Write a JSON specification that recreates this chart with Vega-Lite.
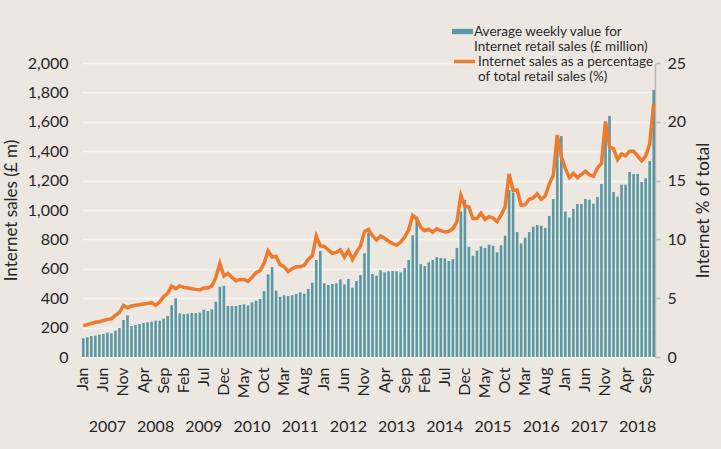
{
  "$schema": "https://vega.github.io/schema/vega-lite/v6.json",
  "width": 573,
  "height": 294,
  "autosize": {"type": "none"},
  "padding": {"left": 82, "top": 63, "right": 66, "bottom": 92},
  "background": "#ece7e1",
  "config": {
    "view": {"stroke": null},
    "font": "Lato",
    "axis": {"labelFont": "Lato", "titleFont": "Lato", "labelColor": "#262626", "titleColor": "#262626", "titleFontWeight": "normal"},
    "legend": {"labelFont": "Lato"}
  },
  "data": {"values": [
    {"m":"2007-01","sales":127,"pct":2.66},{"m":"2007-02","sales":134,"pct":2.75},{"m":"2007-03","sales":143,"pct":2.85},{"m":"2007-04","sales":145,"pct":2.95},{"m":"2007-05","sales":152,"pct":3.0},{"m":"2007-06","sales":156,"pct":3.1},{"m":"2007-07","sales":166,"pct":3.2},{"m":"2007-08","sales":161,"pct":3.25},{"m":"2007-09","sales":179,"pct":3.55},{"m":"2007-10","sales":197,"pct":3.8},{"m":"2007-11","sales":252,"pct":4.39},{"m":"2007-12","sales":283,"pct":4.19},
    {"m":"2008-01","sales":211,"pct":4.34},{"m":"2008-02","sales":218,"pct":4.4},{"m":"2008-03","sales":224,"pct":4.45},{"m":"2008-04","sales":231,"pct":4.5},{"m":"2008-05","sales":236,"pct":4.56},{"m":"2008-06","sales":240,"pct":4.62},{"m":"2008-07","sales":247,"pct":4.39},{"m":"2008-08","sales":247,"pct":4.68},{"m":"2008-09","sales":261,"pct":5.13},{"m":"2008-10","sales":279,"pct":5.41},{"m":"2008-11","sales":352,"pct":6.04},{"m":"2008-12","sales":399,"pct":5.81},
    {"m":"2009-01","sales":297,"pct":6.04},{"m":"2009-02","sales":292,"pct":5.92},{"m":"2009-03","sales":295,"pct":5.87},{"m":"2009-04","sales":299,"pct":5.81},{"m":"2009-05","sales":299,"pct":5.75},{"m":"2009-06","sales":302,"pct":5.7},{"m":"2009-07","sales":322,"pct":5.87},{"m":"2009-08","sales":313,"pct":5.87},{"m":"2009-09","sales":324,"pct":6.04},{"m":"2009-10","sales":376,"pct":6.77},{"m":"2009-11","sales":478,"pct":7.97},{"m":"2009-12","sales":485,"pct":6.89},
    {"m":"2010-01","sales":347,"pct":7.11},{"m":"2010-02","sales":347,"pct":6.77},{"m":"2010-03","sales":347,"pct":6.49},{"m":"2010-04","sales":354,"pct":6.6},{"m":"2010-05","sales":358,"pct":6.6},{"m":"2010-06","sales":351,"pct":6.43},{"m":"2010-07","sales":372,"pct":6.77},{"m":"2010-08","sales":383,"pct":7.17},{"m":"2010-09","sales":395,"pct":7.34},{"m":"2010-10","sales":449,"pct":7.97},{"m":"2010-11","sales":562,"pct":9.01},{"m":"2010-12","sales":612,"pct":8.5},
    {"m":"2011-01","sales":451,"pct":8.55},{"m":"2011-02","sales":410,"pct":7.85},{"m":"2011-03","sales":420,"pct":7.68},{"m":"2011-04","sales":415,"pct":7.26},{"m":"2011-05","sales":420,"pct":7.51},{"m":"2011-06","sales":429,"pct":7.68},{"m":"2011-07","sales":440,"pct":7.68},{"m":"2011-08","sales":431,"pct":7.79},{"m":"2011-09","sales":463,"pct":8.31},{"m":"2011-10","sales":506,"pct":8.59},{"m":"2011-11","sales":660,"pct":10.29},{"m":"2011-12","sales":721,"pct":9.44},
    {"m":"2012-01","sales":501,"pct":9.4},{"m":"2012-02","sales":490,"pct":9.1},{"m":"2012-03","sales":497,"pct":8.82},{"m":"2012-04","sales":501,"pct":8.9},{"m":"2012-05","sales":528,"pct":9.1},{"m":"2012-06","sales":494,"pct":8.5},{"m":"2012-07","sales":531,"pct":9.04},{"m":"2012-08","sales":472,"pct":8.3},{"m":"2012-09","sales":517,"pct":8.9},{"m":"2012-10","sales":558,"pct":9.45},{"m":"2012-11","sales":705,"pct":10.65},{"m":"2012-12","sales":846,"pct":10.85},
    {"m":"2013-01","sales":565,"pct":10.3},{"m":"2013-02","sales":553,"pct":9.95},{"m":"2013-03","sales":590,"pct":10.3},{"m":"2013-04","sales":576,"pct":10.1},{"m":"2013-05","sales":583,"pct":9.85},{"m":"2013-06","sales":585,"pct":9.65},{"m":"2013-07","sales":583,"pct":9.5},{"m":"2013-08","sales":576,"pct":9.78},{"m":"2013-09","sales":605,"pct":10.2},{"m":"2013-10","sales":660,"pct":10.8},{"m":"2013-11","sales":828,"pct":12.05},{"m":"2013-12","sales":954,"pct":11.76},
    {"m":"2014-01","sales":631,"pct":11.03},{"m":"2014-02","sales":619,"pct":10.74},{"m":"2014-03","sales":644,"pct":10.86},{"m":"2014-04","sales":660,"pct":10.63},{"m":"2014-05","sales":680,"pct":10.91},{"m":"2014-06","sales":673,"pct":10.74},{"m":"2014-07","sales":671,"pct":10.63},{"m":"2014-08","sales":653,"pct":10.69},{"m":"2014-09","sales":665,"pct":10.91},{"m":"2014-10","sales":742,"pct":11.48},{"m":"2014-11","sales":989,"pct":13.75},{"m":"2014-12","sales":1068,"pct":12.84},
    {"m":"2015-01","sales":750,"pct":12.75},{"m":"2015-02","sales":689,"pct":11.76},{"m":"2015-03","sales":723,"pct":11.79},{"m":"2015-04","sales":753,"pct":12.22},{"m":"2015-05","sales":742,"pct":11.71},{"m":"2015-06","sales":764,"pct":11.93},{"m":"2015-07","sales":757,"pct":11.82},{"m":"2015-08","sales":712,"pct":11.51},{"m":"2015-09","sales":760,"pct":12.07},{"m":"2015-10","sales":825,"pct":12.78},{"m":"2015-11","sales":1136,"pct":15.56},{"m":"2015-12","sales":1118,"pct":14.15},
    {"m":"2016-01","sales":850,"pct":14.2},{"m":"2016-02","sales":773,"pct":12.9},{"m":"2016-03","sales":812,"pct":12.95},{"m":"2016-04","sales":850,"pct":13.41},{"m":"2016-05","sales":887,"pct":13.52},{"m":"2016-06","sales":898,"pct":13.86},{"m":"2016-07","sales":893,"pct":13.41},{"m":"2016-08","sales":878,"pct":13.69},{"m":"2016-09","sales":959,"pct":14.71},{"m":"2016-10","sales":1075,"pct":15.45},{"m":"2016-11","sales":1490,"pct":18.88},{"m":"2016-12","sales":1503,"pct":17.03},
    {"m":"2017-01","sales":989,"pct":16.04},{"m":"2017-02","sales":948,"pct":15.25},{"m":"2017-03","sales":1007,"pct":15.62},{"m":"2017-04","sales":1041,"pct":15.26},{"m":"2017-05","sales":1041,"pct":15.52},{"m":"2017-06","sales":1075,"pct":15.8},{"m":"2017-07","sales":1070,"pct":15.49},{"m":"2017-08","sales":1043,"pct":15.36},{"m":"2017-09","sales":1088,"pct":16.08},{"m":"2017-10","sales":1177,"pct":16.47},{"m":"2017-11","sales":1590,"pct":20.03},{"m":"2017-12","sales":1640,"pct":17.88},
    {"m":"2018-01","sales":1122,"pct":17.7},{"m":"2018-02","sales":1091,"pct":16.78},{"m":"2018-03","sales":1172,"pct":17.26},{"m":"2018-04","sales":1172,"pct":17.1},{"m":"2018-05","sales":1259,"pct":17.5},{"m":"2018-06","sales":1245,"pct":17.5},{"m":"2018-07","sales":1245,"pct":17.1},{"m":"2018-08","sales":1191,"pct":16.68},{"m":"2018-09","sales":1216,"pct":17.09},{"m":"2018-10","sales":1333,"pct":18.1},{"m":"2018-11","sales":1816,"pct":21.54}
  ]},
  "layer": [
    {
      "mark": {"type": "bar"},
      "encoding": {
        "x": {
          "field": "m", "type": "ordinal",
          "scale": {"paddingInner": 0.35, "paddingOuter": 0},
          "axis": {
            "orient": "bottom",
            "values": ["2007-01","2007-06","2007-11","2008-04","2008-09","2009-02","2009-07","2009-12","2010-05","2010-10","2011-03","2011-08","2012-01","2012-06","2012-11","2013-04","2013-09","2014-02","2014-07","2014-12","2015-05","2015-10","2016-03","2016-08","2017-01","2017-06","2017-11","2018-04","2018-09"],
            "labelExpr": "['Jan','Feb','Mar','Apr','May','Jun','Jul','Aug','Sep','Oct','Nov','Dec'][toNumber(slice(datum.value, 5, 7)) - 1]",
            "labelAngle": 270, "labelAlign": "right", "labelBaseline": "middle",
            "labelPadding": 10, "labelFontSize": 16, "labelOverlap": false,
            "ticks": false, "domain": false, "grid": false, "title": null
          }
        },
        "y": {
          "field": "sales", "type": "quantitative",
          "scale": {"domain": [0, 2000], "nice": false},
          "axis": {
            "orient": "left", "values": [0,200,400,600,800,1000,1200,1400,1600,1800,2000], "format": ",.0f",
            "labelFontSize": 16, "labelPadding": 14, "ticks": false, "domain": false,
            "grid": true, "gridColor": "#f8f5f1", "gridWidth": 1.5,
            "title": "Internet sales (£ m)", "titleFontSize": 17, "titlePadding": 7
          }
        },
        "fill": {
          "datum": "Average weekly value for|Internet retail sales (£ million)",
          "scale": {"range": ["#5a98a3"]},
          "legend": {
            "orient": "none", "legendX": 370, "legendY": -38, "padding": 0,
            "title": null,
            "labelExpr": "split(datum.label, '|')",
            "labelFontSize": 13.5, "labelColor": "#2b2b2b", "labelLimit": 0,
            "labelBaseline": "alphabetic", "labelOffset": 1,
            "symbolType": "M-1,-0.63H1V-0.13H-1Z", "symbolSize": 441, "symbolStrokeWidth": 0,
            "symbolOpacity": 1,
            "encode": {"labels": {"lineHeight": {"value": 14.5}}}
          }
        }
      }
    },
    {
      "mark": {"type": "line", "strokeWidth": 3.5},
      "encoding": {
        "x": {
          "field": "m", "type": "ordinal",
          "axis": {
            "orient": "bottom",
            "values": ["2007-07","2008-07","2009-07","2010-07","2011-07","2012-07","2013-07","2014-07","2015-07","2016-07","2017-07","2018-07"],
            "labelExpr": "slice(datum.value, 0, 4)",
            "bandPosition": 0,
            "labelAngle": 0, "labelAlign": "center", "labelBaseline": "top",
            "labelPadding": 5, "offset": 56, "labelFontSize": 16, "labelOverlap": false,
            "ticks": false, "domain": false, "grid": false, "title": null
          }
        },
        "y": {
          "field": "pct", "type": "quantitative",
          "scale": {"domain": [0, 25], "nice": false},
          "axis": {
            "orient": "right", "values": [0,5,10,15,20,25],
            "labelFontSize": 16, "labelPadding": 7,
            "ticks": true, "tickSize": 5, "tickColor": "#bdb8b3", "tickWidth": 1.5,
            "domain": true, "domainColor": "#bdb8b3", "domainWidth": 1.5,
            "grid": false,
            "title": "Internet % of total", "titleFontSize": 17, "titleAngle": 270, "titlePadding": 27
          }
        },
        "stroke": {
          "datum": "Internet sales as a percentage|of total retail sales (%)",
          "scale": {"range": ["#ee7a2e"]},
          "legend": {
            "orient": "none", "legendX": 370, "legendY": -10, "padding": 0,
            "title": null,
            "labelExpr": "split(datum.label, '|')",
            "labelFontSize": 13.5, "labelColor": "#2b2b2b", "labelLimit": 0,
            "labelBaseline": "alphabetic", "labelOffset": 1,
            "symbolType": "M-1,-0.38H1", "symbolSize": 441, "symbolStrokeWidth": 3.5,
            "symbolFillColor": "transparent",
            "encode": {"labels": {"lineHeight": {"value": 14.5}}}
          }
        }
      }
    }
  ],
  "resolve": {"scale": {"y": "independent"}, "axis": {"x": "independent", "y": "independent"}}
}
